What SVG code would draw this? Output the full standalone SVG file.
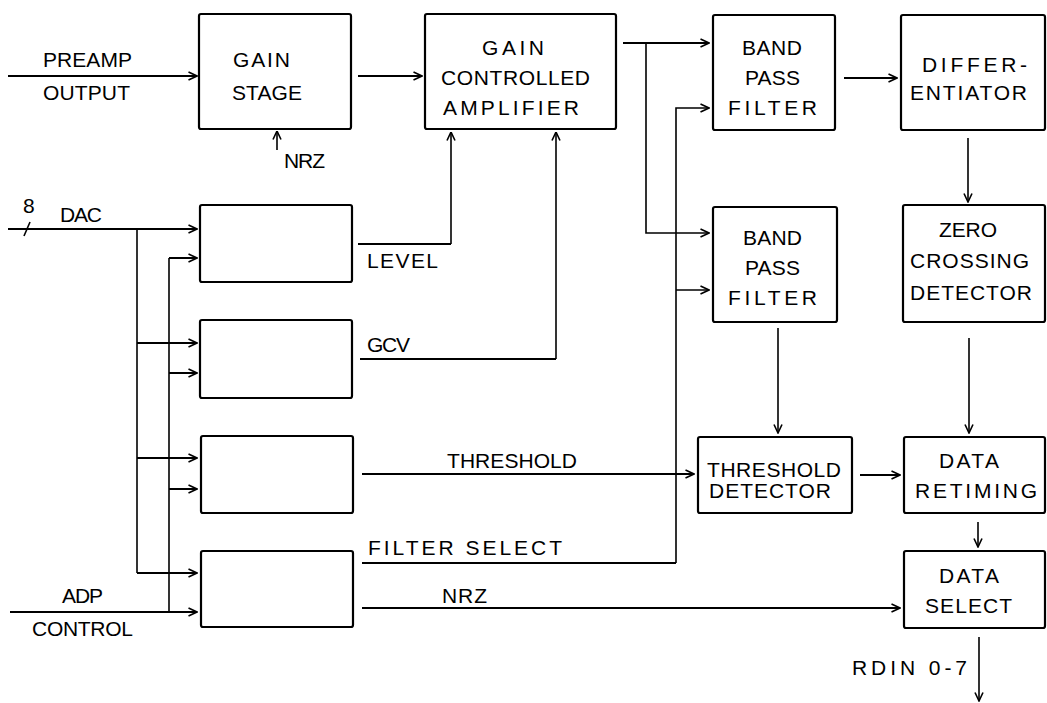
<svg xmlns="http://www.w3.org/2000/svg" width="1047" height="703" viewBox="0 0 1047 703">
<style>
.box{fill:none;stroke:#000;stroke-width:2.2}
.ln{fill:none;stroke:#000;stroke-width:2}
.vl{fill:none;stroke:#000;stroke-width:1.6}
text{font-family:"Liberation Sans",Arial,sans-serif;font-size:21px;fill:#000}
</style>
<defs>
<marker id="ah" viewBox="0 0 10 10" refX="9.5" refY="5" markerWidth="10" markerHeight="10" markerUnits="userSpaceOnUse" orient="auto">
<path d="M1,1 L9.5,5 L1,9" fill="none" stroke="#000" stroke-width="1.6"/>
</marker>
</defs>
<rect width="1047" height="703" fill="#fff"/>
<g id="connectors">
<path class="ln" d="M8,76 H197" marker-end="url(#ah)"/>
<path class="ln" d="M358,76 H422" marker-end="url(#ah)"/>
<path class="vl" d="M277,150 V131" marker-end="url(#ah)"/>
<path class="ln" d="M623,43 H709" marker-end="url(#ah)"/>
<path class="vl" d="M646,43 V233 H709" marker-end="url(#ah)"/>
<path class="vl" d="M676,563 V108 H709" marker-end="url(#ah)"/>
<path class="vl" d="M676,290 H709" marker-end="url(#ah)"/>
<path class="ln" d="M362,563 H676"/>
<path class="ln" d="M844,78 H897" marker-end="url(#ah)"/>
<path class="vl" d="M968,138 V202" marker-end="url(#ah)"/>
<path class="vl" d="M778,328 V433" marker-end="url(#ah)"/>
<path class="vl" d="M969,338 V433" marker-end="url(#ah)"/>
<path class="ln" d="M860,475 H900" marker-end="url(#ah)"/>
<path class="vl" d="M978,522 V547" marker-end="url(#ah)"/>
<path class="vl" d="M979,637 V701" marker-end="url(#ah)"/>
<path class="ln" d="M362,474 H694" marker-end="url(#ah)"/>
<path class="ln" d="M362,608 H900" marker-end="url(#ah)"/>
<path class="ln" d="M358,244 H451"/>
<path class="vl" d="M451,244 V132" marker-end="url(#ah)"/>
<path class="ln" d="M360,359 H556"/>
<path class="vl" d="M556,359 V132" marker-end="url(#ah)"/>
<path class="ln" d="M8,229 H197" marker-end="url(#ah)"/>
<path class="vl" d="M24,236 L30,222"/>
<path class="vl" d="M137,229 V573"/>
<path class="ln" d="M137,573 H197" marker-end="url(#ah)"/>
<path class="ln" d="M137,343 H197" marker-end="url(#ah)"/>
<path class="ln" d="M137,458 H197" marker-end="url(#ah)"/>
<path class="vl" d="M169,612 V258"/>
<path class="ln" d="M169,258 H197" marker-end="url(#ah)"/>
<path class="ln" d="M169,373 H197" marker-end="url(#ah)"/>
<path class="ln" d="M169,489 H197" marker-end="url(#ah)"/>
<path class="ln" d="M10,612 H197" marker-end="url(#ah)"/>
</g>
<g id="labels">
<text x="43" y="67" textLength="89">PREAMP</text>
<text x="43" y="100" textLength="87">OUTPUT</text>
<text x="284" y="168" textLength="41">NRZ</text>
<text x="23" y="213" textLength="10">8</text>
<text x="60" y="222" textLength="42">DAC</text>
<text x="367" y="268" textLength="71">LEVEL</text>
<text x="367" y="352" textLength="43">GCV</text>
<text x="447" y="468" textLength="130">THRESHOLD</text>
<text x="368" y="555" textLength="194">FILTER SELECT</text>
<text x="442" y="603" textLength="45">NRZ</text>
<text x="62" y="603" textLength="41">ADP</text>
<text x="32" y="636" textLength="101">CONTROL</text>
<text x="852" y="675" textLength="115">RDIN 0-7</text>
</g>
<g id="gain-stage">
<rect class="box" x="199" y="14" width="152" height="115" rx="2"/>
<text x="233" y="67" textLength="57">GAIN</text>
<text x="232" y="100" textLength="70">STAGE</text>
</g>
<g id="gain-controlled-amplifier">
<rect class="box" x="425" y="14" width="191" height="115" rx="2"/>
<text x="482" y="55" textLength="62">GAIN</text>
<text x="441" y="85" textLength="149">CONTROLLED</text>
<text x="443" y="115" textLength="136">AMPLIFIER</text>
</g>
<g id="band-pass-filter-1">
<rect class="box" x="713" y="15" width="122" height="115" rx="2"/>
<text x="742" y="55" textLength="60">BAND</text>
<text x="745" y="85" textLength="55">PASS</text>
<text x="728" y="115" textLength="89">FILTER</text>
</g>
<g id="differentiator">
<rect class="box" x="901" y="15" width="144" height="115" rx="2"/>
<text x="922" y="72" textLength="105">DIFFER-</text>
<text x="910" y="100" textLength="117">ENTIATOR</text>
</g>
<g id="band-pass-filter-2">
<rect class="box" x="713" y="207" width="124" height="115" rx="2"/>
<text x="743" y="245" textLength="59">BAND</text>
<text x="745" y="275" textLength="55">PASS</text>
<text x="728" y="305" textLength="89">FILTER</text>
</g>
<g id="zero-crossing-detector">
<rect class="box" x="903" y="205" width="142" height="117" rx="2"/>
<text x="939" y="237" textLength="58">ZERO</text>
<text x="910" y="268" textLength="119">CROSSING</text>
<text x="910" y="300" textLength="122">DETECTOR</text>
</g>
<g id="threshold-detector">
<rect class="box" x="698" y="437" width="154" height="76" rx="2"/>
<text x="707" y="477" textLength="134">THRESHOLD</text>
<text x="709" y="498" textLength="122">DETECTOR</text>
</g>
<g id="data-retiming">
<rect class="box" x="904" y="437" width="141" height="76" rx="2"/>
<text x="939" y="468" textLength="60">DATA</text>
<text x="915" y="498" textLength="122">RETIMING</text>
</g>
<g id="data-select">
<rect class="box" x="904" y="551" width="141" height="77" rx="2"/>
<text x="939" y="583" textLength="60">DATA</text>
<text x="925" y="613" textLength="87">SELECT</text>
</g>
<g id="dac-1"><rect class="box" x="200" y="205" width="152" height="77" rx="2"/></g>
<g id="dac-2"><rect class="box" x="200" y="320" width="152" height="78" rx="2"/></g>
<g id="dac-3"><rect class="box" x="201" y="436" width="152" height="77" rx="2"/></g>
<g id="control-4"><rect class="box" x="201" y="551" width="152" height="76" rx="2"/></g>
</svg>
